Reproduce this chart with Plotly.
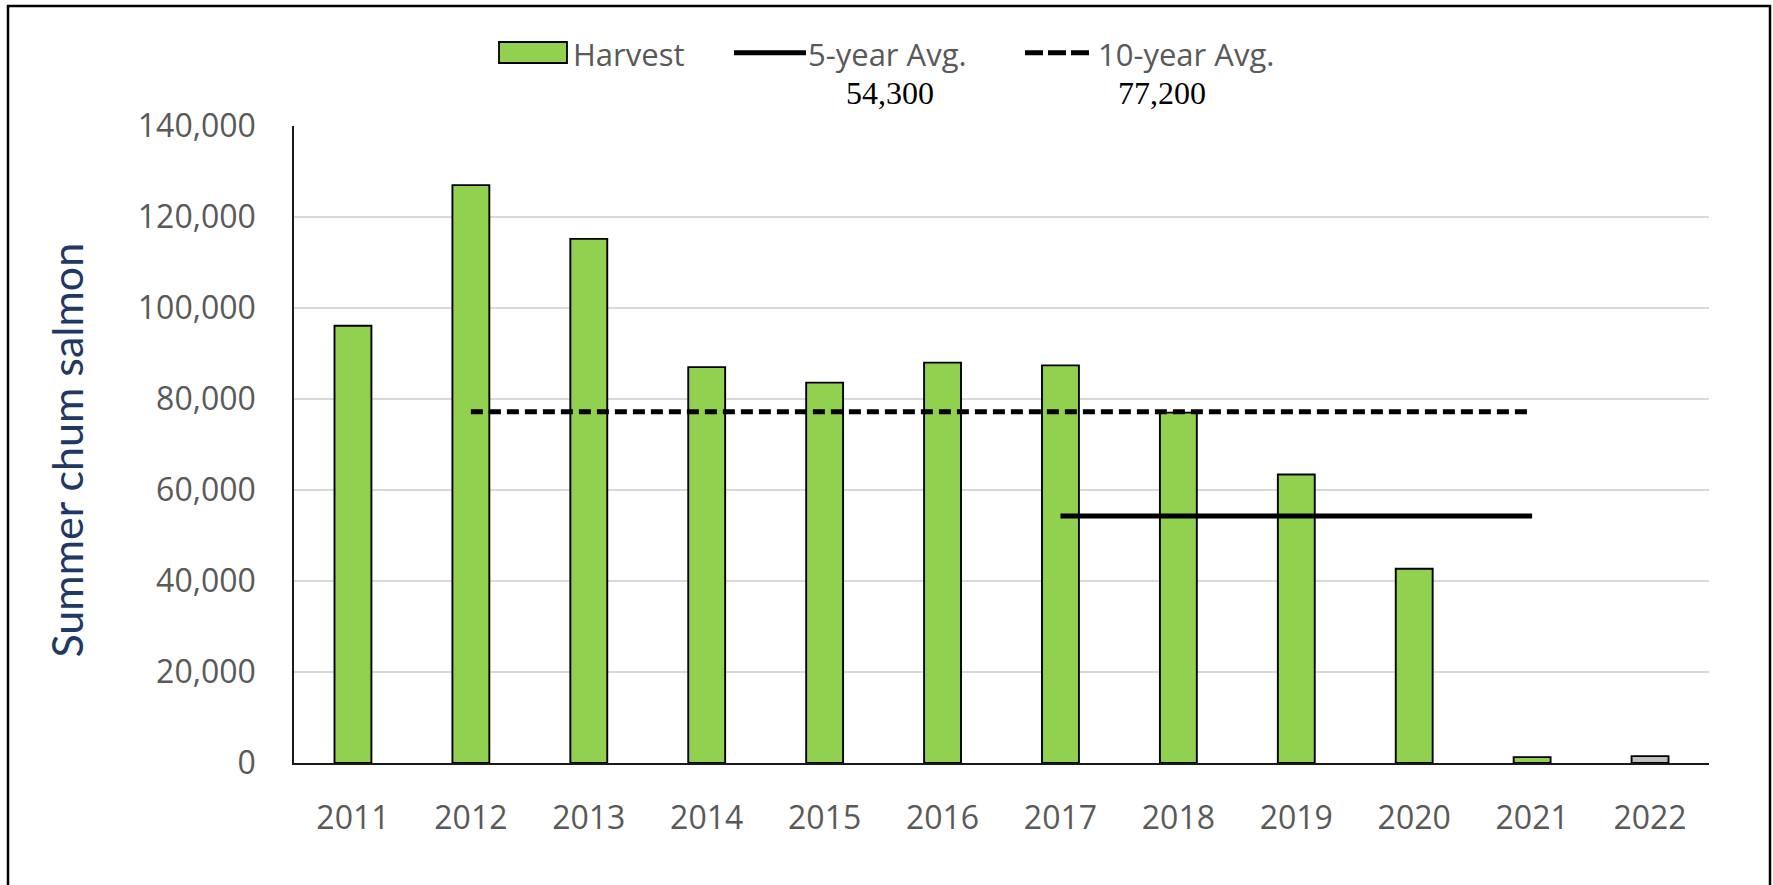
import plotly.graph_objects as go

# Summer chum salmon harvest by year
years = [2011, 2012, 2013, 2014, 2015, 2016, 2017, 2018, 2019, 2020, 2021, 2022]
harvest = [96100, 127000, 115200, 87000, 83600, 88000, 87400, 77000, 63400, 42700, 1300, 1500]

# Averages and the years they span
avg5_value = 54300
avg5_years = [2017, 2018, 2019, 2020, 2021]
avg10_value = 77200
avg10_years = [2012, 2013, 2014, 2015, 2016, 2017, 2018, 2019, 2020, 2021]

preliminary_year = 2022
y_ticks = [0, 20000, 40000, 60000, 80000, 100000, 120000, 140000]

W, H = 1773, 885
ML, MR, MT, MB = 294, 64, 126, 122
PW, PH = W - ML - MR, H - MT - MB

GREEN = "#92D050"
GREY_BAR = "#BFBFBF"
TICK_GREY = "#595959"
NAVY = "#1F3864"


def px2x(px):
    return (px - ML) / PW


def px2y(py):
    return (H - MB - py) / PH


bar_colors = [GREY_BAR if y == preliminary_year else GREEN for y in years]

fig = go.Figure()
fig.add_trace(go.Bar(
    x=years, y=harvest, name="Harvest",
    marker=dict(color=bar_colors, line=dict(color="#000000", width=1.9)),
))
fig.add_trace(go.Scatter(
    x=[avg10_years[0], avg10_years[-1]], y=[avg10_value, avg10_value],
    mode="lines", name="10-year Avg.",
    line=dict(color="#000000", width=5.2, dash="12px,6px"),
))
fig.add_trace(go.Scatter(
    x=[avg5_years[0], avg5_years[-1]], y=[avg5_value, avg5_value],
    mode="lines", name="5-year Avg.",
    line=dict(color="#000000", width=5),
))

shapes = [
    # outer frame
    dict(type="rect", xref="paper", yref="paper",
         x0=px2x(8), x1=px2x(1770), y0=px2y(6), y1=px2y(900),
         line=dict(color="#000000", width=2.5), layer="above"),
    # legend keys
    dict(type="rect", xref="paper", yref="paper",
         x0=px2x(499), x1=px2x(567), y0=px2y(42), y1=px2y(63),
         fillcolor=GREEN, line=dict(color="#000000", width=1.8)),
    dict(type="line", xref="paper", yref="paper",
         x0=px2x(734), x1=px2x(806), y0=px2y(52.7), y1=px2y(52.7),
         line=dict(color="#000000", width=5)),
    dict(type="line", xref="paper", yref="paper",
         x0=px2x(1025), x1=px2x(1089), y0=px2y(52.7), y1=px2y(52.7),
         line=dict(color="#000000", width=5, dash="18px,5px")),
]

legend_font = dict(family="Open Sans", size=31, color=TICK_GREY)
avg_font = dict(family="Liberation Serif", size=32, color="#000000")
annotations = [
    dict(text="Harvest", x=px2x(571), y=px2y(53.5), xanchor="left", yanchor="middle",
         xref="paper", yref="paper", showarrow=False, font=legend_font),
    dict(text="5-year Avg.", x=px2x(806), y=px2y(53.5), xanchor="left", yanchor="middle",
         xref="paper", yref="paper", showarrow=False, font=legend_font),
    dict(text="10-year Avg.", x=px2x(1096), y=px2y(53.5), xanchor="left", yanchor="middle",
         xref="paper", yref="paper", showarrow=False, font=legend_font),
    dict(text=f"{avg5_value:,}", x=px2x(889.5), y=px2y(93), xanchor="center", yanchor="middle",
         xref="paper", yref="paper", showarrow=False, font=avg_font),
    dict(text=f"{avg10_value:,}", x=px2x(1161.7), y=px2y(93), xanchor="center", yanchor="middle",
         xref="paper", yref="paper", showarrow=False, font=avg_font),
    dict(text="Summer chum salmon", x=px2x(67), y=px2y(450.6), textangle=-90,
         xanchor="center", yanchor="middle", xref="paper", yref="paper", showarrow=False,
         font=dict(family="Lato", size=43, color=NAVY)),
]

fig.update_layout(
    width=W, height=H,
    margin=dict(l=ML, r=MR, t=MT, b=MB, pad=0),
    paper_bgcolor="#FFFFFF", plot_bgcolor="#FFFFFF",
    showlegend=False,
    bargap=0.687,
    shapes=shapes,
    annotations=annotations,
    font=dict(family="Open Sans", color=TICK_GREY),
)
fig.update_xaxes(
    range=[years[0] - 0.5, years[-1] + 0.5],
    tickvals=years, ticktext=[str(y) for y in years],
    tickfont=dict(family="Open Sans", size=32, color=TICK_GREY),
    showgrid=False, zeroline=False,
    showline=True, linecolor="#1A1A1A", linewidth=2,
    ticks="", ticklabelstandoff=26,
)
fig.update_yaxes(
    range=[0, y_ticks[-1]],
    tickvals=y_ticks, tickformat=",",
    tickfont=dict(family="Open Sans", size=32, color=TICK_GREY),
    showgrid=True, gridcolor="#D9D9D9", gridwidth=2,
    zeroline=False,
    showline=True, linecolor="#1A1A1A", linewidth=1.5,
    ticks="", ticklabelstandoff=30,
)

fig.write_html("out.html")
